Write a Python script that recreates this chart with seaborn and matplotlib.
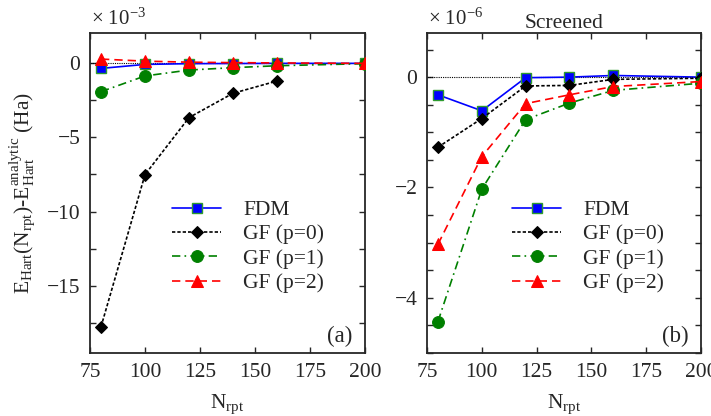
import numpy as np
import pandas as pd
import matplotlib
matplotlib.use("Agg")
import matplotlib.pyplot as plt
import seaborn as sns
from matplotlib.ticker import MultipleLocator

# ---- data ----
n_rpt = [80, 100, 120, 140, 160, 200]
n_rpt_p0_a = [80, 100, 120, 140, 160]

# panel (a), units of 1e-3 Ha
fdm_a = [-0.34, -0.07, -0.02, -0.01, 0.0, 0.0]
gf0_a = [-17.78, -7.51, -3.66, -2.02, -1.19]
gf1_a = [-1.91, -0.85, -0.45, -0.29, -0.16, -0.02]
gf2_a = [0.29, 0.15, 0.08, 0.05, 0.03, 0.0]

# panel (b), screened, units of 1e-6 Ha
fdm_b = [-0.32, -0.61, -0.01, 0.0, 0.03, 0.0]
gf0_b = [-1.27, -0.75, -0.16, -0.15, -0.04, -0.02]
gf1_b = [-4.43, -2.03, -0.77, -0.47, -0.24, -0.11]
gf2_b = [-3.03, -1.44, -0.48, -0.32, -0.17, -0.08]

labels = ["FDM", "GF (p=0)", "GF (p=1)", "GF (p=2)"]
xticks = [75, 100, 125, 150, 175, 200]

sns.set_theme(style="ticks")
plt.rcParams["font.family"] = ["Liberation Serif", "DejaVu Serif"]
plt.rcParams["mathtext.fontset"] = "custom"
plt.rcParams["mathtext.rm"] = "Liberation Serif"
plt.rcParams["mathtext.it"] = "Liberation Serif:italic"
plt.rcParams["axes.linewidth"] = 1.3
plt.rcParams["xtick.direction"] = "in"
plt.rcParams["ytick.direction"] = "in"

FS = 15.5

fig = plt.figure(figsize=(7.11, 4.16), dpi=100)
axA = fig.add_axes([90/711, 1-353/416, 275/711, 320/416])
axB = fig.add_axes([427/711, 1-353/416, 274/711, 320/416])

styles = [
    dict(color="blue", marker="s", markersize=7, markerfacecolor="blue",
         markeredgecolor="#2e9b2e", markeredgewidth=1.0, linestyle="-", linewidth=1.2),
    dict(color="black", marker="D", markersize=6.5, markerfacecolor="black",
         markeredgecolor="black", linestyle=(0, (2, 1.2)), linewidth=1.2),
    dict(color="green", marker="o", markersize=8.5, markerfacecolor="green",
         markeredgecolor="green", linestyle=(0, (5, 2.5, 1, 2.5)), linewidth=1.2),
    dict(color="red", marker="^", markersize=8.5, markerfacecolor="red",
         markeredgecolor="red", linestyle=(0, (5, 3)), linewidth=1.2),
]

def draw(ax, series_x, series_y, leg_x):
    ax.axhline(0, color="black", linestyle=(0, (1, 1)), linewidth=0.8, zorder=1)
    for x, y, lab, st in zip(series_x, series_y, labels, styles):
        df = pd.DataFrame({"x": x, "y": y})
        sns.lineplot(data=df, x="x", y="y", ax=ax, label=lab, errorbar=None,
                     sort=True, zorder=3, **st)
    ax.set_xlim(75, 200)
    ax.set_xticks(xticks)
    ax.tick_params(axis="both", which="both", direction="in", top=True, right=True,
                   labelsize=FS, length=4.5, width=1.0, pad=7)
    ax.set_xlabel(r"$\mathrm{N_{rpt}}$", fontsize=FS, labelpad=8)
    ax.legend(loc="upper left", bbox_to_anchor=(leg_x, 0.478),
              frameon=False, fontsize=FS, handlelength=2.3, handletextpad=1.0,
              labelspacing=0.2, borderaxespad=0, borderpad=0)

draw(axA, [n_rpt, n_rpt_p0_a, n_rpt, n_rpt], [fdm_a, gf0_a, gf1_a, gf2_a], 0.298)
axA.set_ylim(-19.55, 2.05)
axA.yaxis.set_major_locator(MultipleLocator(5))
axA.yaxis.set_minor_locator(MultipleLocator(2.5))
axA.set_yticks([0, -5, -10, -15])
axA.set_ylabel(r"$\mathrm{E_{Hart}(N_{rpt})\text{-}E_{Hart}^{analytic}}$ (Ha)", fontsize=FS, labelpad=6)
axA.text(0.005, 1.025, r"× 10$^{-3}$", transform=axA.transAxes, fontsize=15,
         ha="left", va="baseline")
axA.text(0.955, 0.035, "(a)", transform=axA.transAxes, fontsize=16.5, ha="right", va="baseline")

draw(axB, [n_rpt]*4, [fdm_b, gf0_b, gf1_b, gf2_b], 0.31)
axB.set_ylim(-5.0, 0.8)
axB.yaxis.set_major_locator(MultipleLocator(2))
axB.yaxis.set_minor_locator(MultipleLocator(0.5))
axB.set_ylabel("")
axB.text(0.005, 1.025, r"× 10$^{-6}$", transform=axB.transAxes, fontsize=15,
         ha="left", va="baseline")
axB.set_title("Screened", fontsize=FS, pad=3)
axB.text(0.955, 0.035, "(b)", transform=axB.transAxes, fontsize=16.5, ha="right", va="baseline")

for ax in (axA, axB):
    ax.yaxis.set_major_formatter(matplotlib.ticker.FuncFormatter(
        lambda v, p: ("\u2212" + f"{abs(v):g}") if v < 0 else f"{v:g}"))

fig.savefig("out.png", dpi=100)
